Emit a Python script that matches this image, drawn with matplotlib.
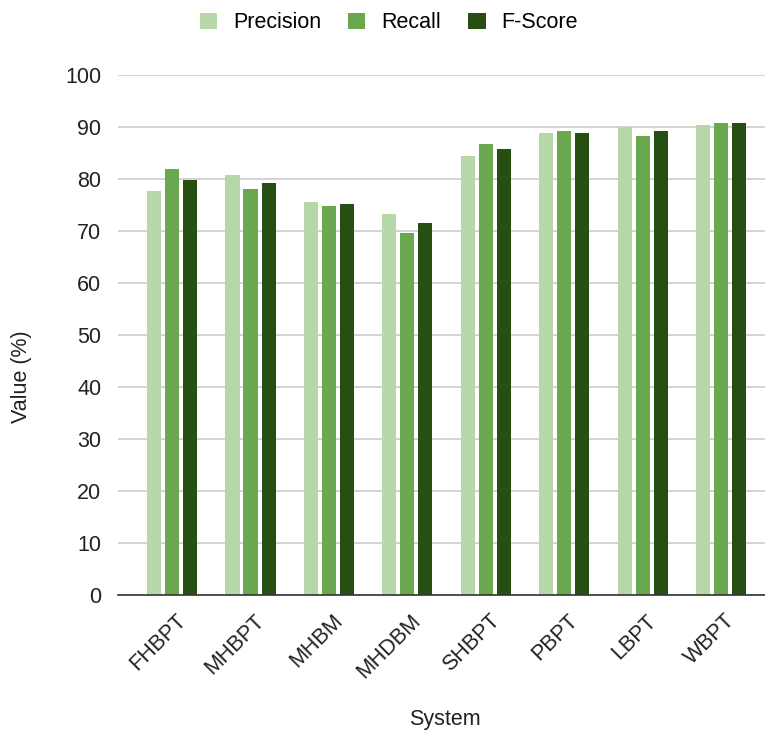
import numpy as np
import matplotlib.pyplot as plt
import matplotlib.transforms as mtransforms

plt.rcParams['font.family'] = ['Liberation Sans', 'DejaVu Sans']

systems = ['FHBPT', 'MHBPT', 'MHBM', 'MHDBM', 'SHBPT', 'PBPT', 'LBPT', 'WBPT']
precision = [77.7, 80.7, 75.5, 73.3, 84.5, 88.8, 90.0, 90.4]
recall = [82.0, 78.0, 74.9, 69.6, 86.7, 89.2, 88.2, 90.7]
fscore = [79.8, 79.2, 75.2, 71.5, 85.7, 88.8, 89.2, 90.7]

series = [('Precision', precision, '#b6d7a8'),
          ('Recall', recall, '#6aa84f'),
          ('F-Score', fscore, '#274e13')]

fs = 15.5
txt = '#222222'

fig = plt.figure(figsize=(7.65, 7.31), dpi=100)
ax = fig.add_axes([118 / 765, 1 - 595 / 731, 647 / 765, 520 / 731])

x = np.arange(len(systems))
step = 0.23
width = 0.18
for i, (name, vals, color) in enumerate(series):
    ax.bar(x + (i - 1) * step, vals, width, color=color, label=name, zorder=3)

ax.set_ylim(0, 100)
ax.set_xlim(-0.69, len(systems) - 0.44)
ax.set_yticks(range(0, 101, 10))
ax.yaxis.grid(True, color='#cccccc', linewidth=1.2, zorder=0)
ax.set_axisbelow(True)
for side in ['top', 'right', 'left']:
    ax.spines[side].set_visible(False)
ax.spines['bottom'].set_color('#333333')
ax.spines['bottom'].set_linewidth(1.2)
ax.spines['bottom'].set_zorder(4)
ax.tick_params(axis='both', length=0, labelsize=fs, colors=txt)
ax.tick_params(axis='y', pad=12)
ax.tick_params(axis='x', pad=11)
ax.set_xticks(x)
ax.set_xticklabels(systems, rotation=45, ha='right', rotation_mode='anchor')

# nudge the slanted labels so they sit under their groups
shift = mtransforms.ScaledTranslation(3 / 100, 0, fig.dpi_scale_trans)
for lbl in ax.get_xticklabels():
    lbl.set_transform(lbl.get_transform() + shift)

fig.text(22 / 765, 1 - 377 / 731, 'Value (%)', rotation=90, ha='center',
         va='center', fontsize=fs, color=txt)
fig.text(445 / 765, 1 - 719 / 731, 'System', ha='center', va='center',
         fontsize=fs, color=txt)

fig.legend(loc='center', bbox_to_anchor=(389 / 765, 1 - 23 / 731), ncol=3,
           frameon=False, fontsize=fs, handlelength=0.8, handleheight=0.8,
           columnspacing=1.25, handletextpad=0.75)

fig.savefig('out.png', dpi=100)
